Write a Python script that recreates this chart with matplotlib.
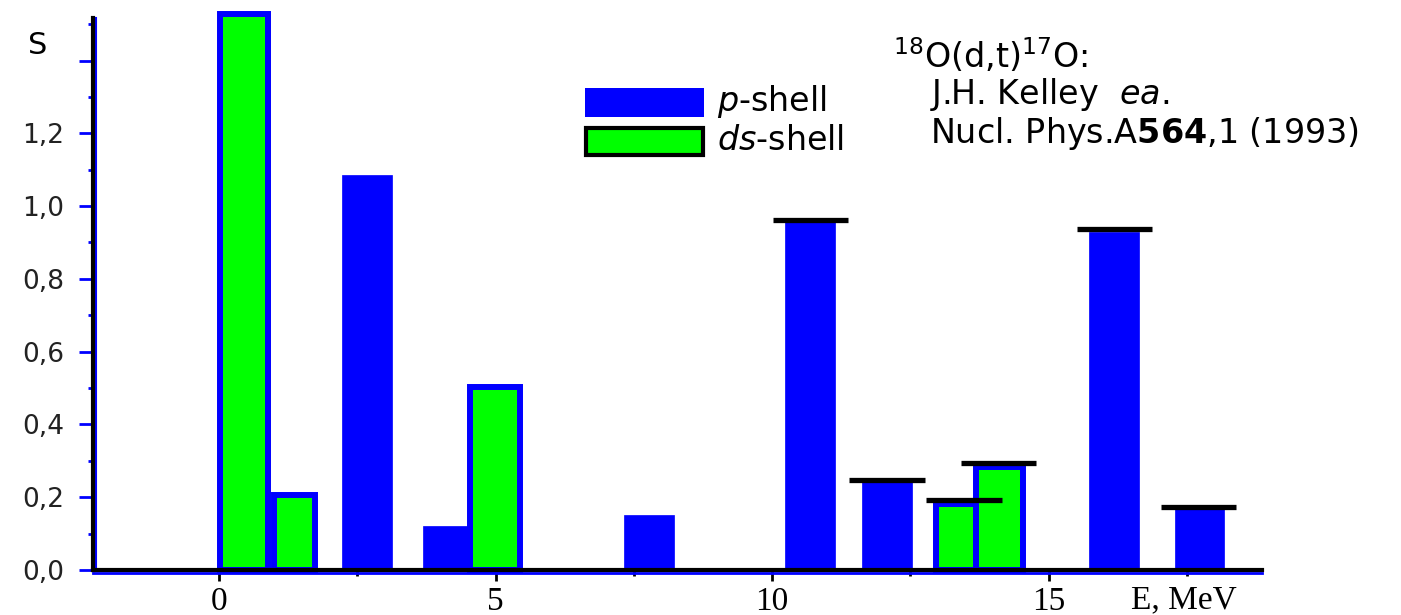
import matplotlib
matplotlib.use("Agg")
import matplotlib.pyplot as plt
from matplotlib.patches import Rectangle
from matplotlib.transforms import offset_copy

# p-shell (blue) levels: energy, MeV / spectroscopic factor
p_energy = [2.67, 4.08, 7.78, 10.69, 12.08, 16.18, 17.73]
p_s = [1.085, 0.121, 0.152, 0.957, 0.241, 0.929, 0.167]
p_width = [0.90, 0.80, 0.90, 0.90, 0.90, 0.90, 0.90]

# ds-shell (green) levels
ds_energy = [0.448, 1.36, 4.99, 13.33, 14.11]
ds_s = [1.528, 0.207, 0.503, 0.182, 0.283]
ds_width = [0.865, 0.75, 0.89, 0.72, 0.85]

# black horizontal marks over some levels
mark_energy = [10.69, 12.08, 13.47, 14.10, 16.19, 17.71]
mark_s = [0.963, 0.247, 0.192, 0.294, 0.936, 0.174]

y_ticks = [0.0, 0.2, 0.4, 0.6, 0.8, 1.0, 1.2, 1.4]
y_labels = ["0,0", "0,2", "0,4", "0,6", "0,8", "1,0", "1,2", ""]
x_ticks = [0, 5, 10, 15]

BLUE = "#0000ff"
GREEN = "#00ff00"
W, H = 1401, 615

fig = plt.figure(figsize=(W / 100, H / 100), dpi=100)
ax = fig.add_axes([93 / W, (H - 570) / H, (1262 - 93) / W, (570 - 18.3) / H])

ax.bar(p_energy, p_s, width=p_width, color=BLUE, edgecolor=BLUE, linewidth=0.5, zorder=2)
ax.bar(ds_energy, ds_s, width=ds_width, color=GREEN, edgecolor=BLUE, linewidth=4.3,
       zorder=2, clip_on=False)
ax.hlines(mark_s, [e - 0.68 for e in mark_energy], [e + 0.68 for e in mark_energy],
          colors="black", linewidth=3.8, zorder=3)

ax.set_xlim(-2.28, 18.86)
ax.set_ylim(0, 1.516)

for side in ("top", "right"):
    ax.spines[side].set_visible(False)
for side in ("left", "bottom"):
    ax.spines[side].set_linewidth(3)
    ax.spines[side].set_zorder(4)

# thin blue lines hugging the axes
xl, xr = ax.get_xlim()
ax.plot([xl, xl], [0, 1.516], color=BLUE, lw=1.5, clip_on=False, zorder=3.5,
        transform=offset_copy(ax.transData, fig, x=2.5, y=0, units="dots"))
ax.plot([xl, xr], [0, 0], color=BLUE, lw=2, clip_on=False, zorder=3.5,
        transform=offset_copy(ax.transData, fig, x=0, y=-3, units="dots"))

ax.set_yticks(y_ticks)
ax.set_yticklabels(y_labels, fontsize=19, family="DejaVu Sans", color="#222222")
ax.set_yticks([0.1, 0.3, 0.5, 0.7, 0.9, 1.1, 1.3, 1.5], minor=True)
ax.tick_params(axis="y", which="major", direction="out", length=10, width=2, color=BLUE, pad=11)
ax.tick_params(axis="y", which="minor", direction="out", length=3.5, width=2, color=BLUE)

ax.set_xticks(x_ticks)
ax.set_xticklabels([str(t) for t in x_ticks], fontsize=24, family="Liberation Serif")
ax.set_xticks([2.5, 7.5, 12.5, 17.5], minor=True)
ax.tick_params(axis="x", which="major", direction="out", length=8, width=2, color="black", pad=4)
ax.tick_params(axis="x", which="minor", direction="out", length=4, width=2, color="black")

ax.annotate("E, MeV", xy=(17.45, 0), xycoords=("data", "axes fraction"),
            xytext=(0, -38), textcoords="offset pixels", ha="center", va="baseline",
            fontsize=24, family="Liberation Serif")

fig.text(38 / W, 1 - 46 / H, "S", ha="center", va="center", fontsize=22, family="DejaVu Sans")

# legend drawn by hand
fig.patches.append(Rectangle((585 / W, 1 - 117 / H), 119 / W, 29 / H, transform=fig.transFigure,
                             facecolor=BLUE, edgecolor="none"))
fig.patches.append(Rectangle((586 / W, 1 - 155 / H), 117 / W, 27 / H, transform=fig.transFigure,
                             facecolor=GREEN, edgecolor="black", linewidth=3))
fig.text(717 / W, 1 - 111 / H, r"$\mathit{p}$-shell", fontsize=24, va="baseline")
fig.text(717 / W, 1 - 150 / H, r"$\mathit{ds}$-shell", fontsize=24, va="baseline")

fig.text(893 / W, 1 - 68 / H, r"$^{18}$O(d,t)$^{17}$O:", fontsize=24, va="baseline")
fig.text(930 / W, 1 - 104 / H, r"J.H. Kelley  $\mathit{ea}$.", fontsize=24, va="baseline")
fig.text(930 / W, 1 - 143 / H, r"Nucl. Phys.A$\mathbf{564}$,1 (1993)", fontsize=24, va="baseline")

fig.savefig("out.png", dpi=100)
